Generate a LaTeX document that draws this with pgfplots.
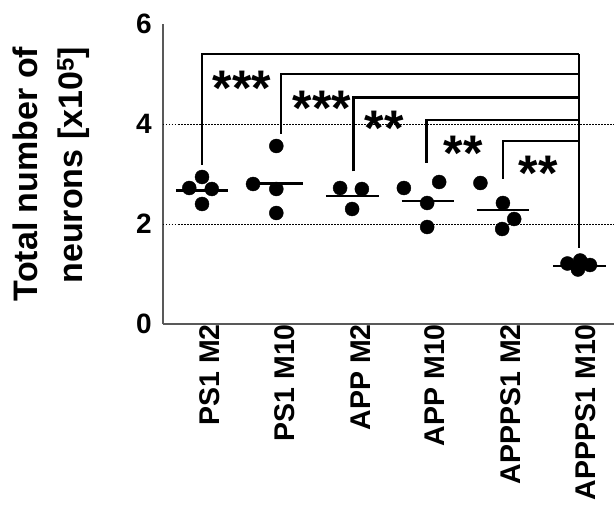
\documentclass[border=0pt]{standalone}
\usepackage{fontspec}
\setmainfont{Liberation Sans}
\usepackage{pgfplots}
\pgfplotsset{compat=1.18}

% neuron counts per animal (x = group position, y = count x10^5)
\pgfplotstableread{
x     y
-0.17 2.72
0.00  2.94
0.13  2.70
0.00  2.40
0.68  2.80
0.99  2.70
0.99  2.22
0.99  3.56
1.84  2.72
2.13  2.70
2.00  2.30
2.69  2.72
3.16  2.84
3.00  2.42
3.00  1.94
3.71  2.82
4.01  2.42
4.16  2.10
4.00  1.90
4.87  1.21
5.04  1.27
5.17  1.18
5.01  1.09
}\dots

\begin{document}
\begin{tikzpicture}
\begin{axis}[
    name=ax,
    scale only axis,
    width=451pt, height=300pt,
    xmin=-0.52, xmax=5.49,
    ymin=0, ymax=6,
    axis x line=bottom, axis y line=left,
    axis line style={-, draw=black!65, line width=1.4pt},
    major tick length=0pt,
    xtick={0,1,2,3,4,5},
    xticklabels={PS1 M2, PS1 M10, APP M2, APP M10, APPPS1 M2, APPPS1 M10},
    x tick label style={rotate=90, anchor=east, inner sep=0pt, yshift=-8pt,
        font=\fontsize{28.5}{28.5}\selectfont\bfseries},
    ytick={0,2,4,6},
    y tick label style={inner sep=0pt, xshift=-11pt,
        font=\fontsize{28}{28}\selectfont\bfseries},
    /pgf/number format/assume math mode=true,
    extra y ticks={2,4},
    extra y tick labels={},
    extra y tick style={grid=major,
        major grid style={black, line width=0.9pt, dash pattern=on 1.5pt off 1.5pt}},
    ylabel={Total number of\\neurons [x10\textsuperscript{5}]},
    every axis y label/.style={at={(rel axis cs:0,0.5)}, xshift=-73pt,
        rotate=90, anchor=south, align=right, inner sep=0pt,
        font=\fontsize{34}{45}\selectfont\bfseries},
    clip=false,
]
% individual animals
\addplot[only marks, mark=*, mark size=7pt, mark options={fill=black, draw=black}]
    table[x=x, y=y] {\dots};

% group means
\addplot[black, line width=2.6pt, forget plot] coordinates {(-0.35,2.67) (0.35,2.67)};
\addplot[black, line width=2.6pt, forget plot] coordinates {(0.62,2.81) (1.35,2.81)};
\addplot[black, line width=2.6pt, forget plot] coordinates {(1.65,2.56) (2.36,2.56)};
\addplot[black, line width=2.6pt, forget plot] coordinates {(2.66,2.46) (3.36,2.46)};
\addplot[black, line width=2.6pt, forget plot] coordinates {(3.66,2.28) (4.36,2.28)};
\addplot[black, line width=2.6pt, forget plot] coordinates {(4.68,1.16) (5.38,1.16)};

% significance brackets
\addplot[black, line width=2.4pt] coordinates {(0,3.18) (0,5.4) (5.02,5.4)};
\addplot[black, line width=2.4pt] coordinates {(1.05,3.8) (1.05,5.0) (5.02,5.0)};
\addplot[black, line width=2.4pt] coordinates {(2.02,3.05) (2.02,4.53) (5.02,4.53)};
\addplot[black, line width=2.4pt] coordinates {(2.99,3.22) (2.99,4.08) (5.02,4.08)};
\addplot[black, line width=2.4pt] coordinates {(4.01,2.9) (4.01,3.66) (5.02,3.66)};
\addplot[black, line width=2.4pt] coordinates {(5.02,5.4) (5.02,1.52)};

\begin{scope}[every node/.style={anchor=base, inner sep=0pt,
        font=\fontsize{50}{50}\selectfont\bfseries}]
\node at (axis cs:0.53,4.37) {***};
\node at (axis cs:1.60,3.97) {***};
\node at (axis cs:2.43,3.56) {**};
\node at (axis cs:3.48,3.06) {**};
\node at (axis cs:4.48,2.66) {**};
\end{scope}
\end{axis}
\pgfresetboundingbox
\path ([xshift=-163pt, yshift=24pt]ax.north west) rectangle ([yshift=-181pt]ax.south east);
\end{tikzpicture}
\end{document}
